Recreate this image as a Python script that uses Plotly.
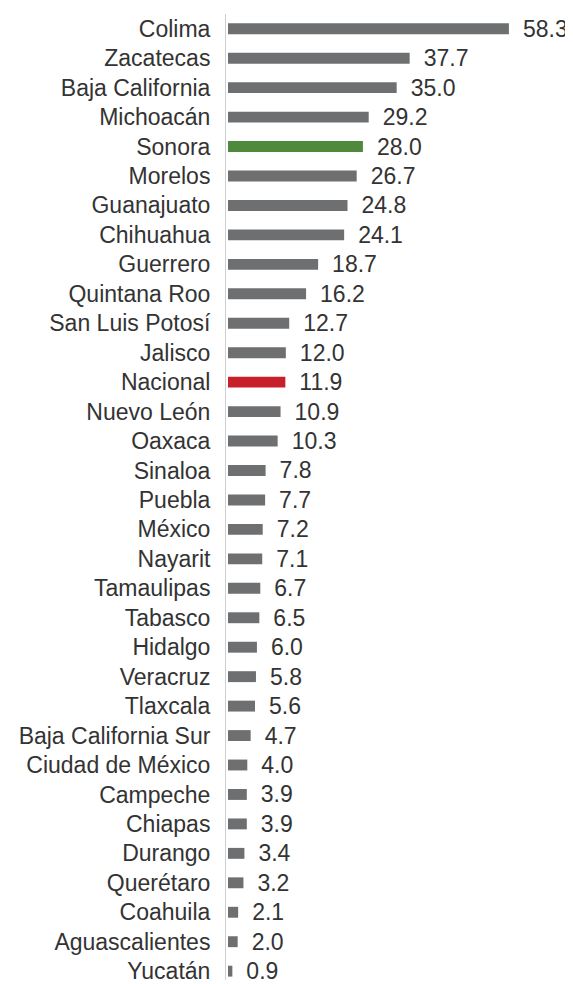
import plotly.graph_objects as go

states = ["Colima", "Zacatecas", "Baja California", "Michoacán", "Sonora", "Morelos",
          "Guanajuato", "Chihuahua", "Guerrero", "Quintana Roo", "San Luis Potosí",
          "Jalisco", "Nacional", "Nuevo León", "Oaxaca", "Sinaloa", "Puebla", "México",
          "Nayarit", "Tamaulipas", "Tabasco", "Hidalgo", "Veracruz", "Tlaxcala",
          "Baja California Sur", "Ciudad de México", "Campeche", "Chiapas", "Durango",
          "Querétaro", "Coahuila", "Aguascalientes", "Yucatán"]
values = [58.3, 37.7, 35.0, 29.2, 28.0, 26.7, 24.8, 24.1, 18.7, 16.2, 12.7, 12.0, 11.9,
          10.9, 10.3, 7.8, 7.7, 7.2, 7.1, 6.7, 6.5, 6.0, 5.8, 5.6, 4.7, 4.0, 3.9, 3.9,
          3.4, 3.2, 2.1, 2.0, 0.9]

GRAY = "#6e6f71"
GREEN = "#4f8a3c"
RED = "#c8202a"
colors = [GREEN if s == "Sonora" else RED if s == "Nacional" else GRAY for s in states]
labels = ["\u00a0\u2009" + f"{v:.1f}" for v in values]

FONT = "Liberation Sans, Arial, Helvetica, sans-serif"

fig = go.Figure(go.Bar(
    x=values, y=states, orientation="h",
    marker=dict(color=colors, line=dict(width=0)),
    width=0.37,
    text=labels, textposition="outside", constraintext="none",
    textfont=dict(family=FONT, size=23, color="#333333"),
    cliponaxis=False,
))

fig.update_layout(
    width=565, height=976,
    margin=dict(l=218, r=0, t=6, b=0),
    plot_bgcolor="white", paper_bgcolor="white",
    showlegend=False,
    font=dict(family=FONT, size=23, color="#333333"),
    xaxis=dict(range=[-0.42, 71.6], visible=False, showgrid=False, zeroline=False),
    yaxis=dict(
        categoryorder="array", categoryarray=states,
        range=[32.3, -0.5],
        showline=True, linecolor="#cfcfcf", linewidth=1,
        ticks="", showgrid=False, zeroline=False,
        ticklabelstandoff=10,
        tickfont=dict(family=FONT, size=23, color="#333333"),
    ),
)

fig.write_html("out.html")
